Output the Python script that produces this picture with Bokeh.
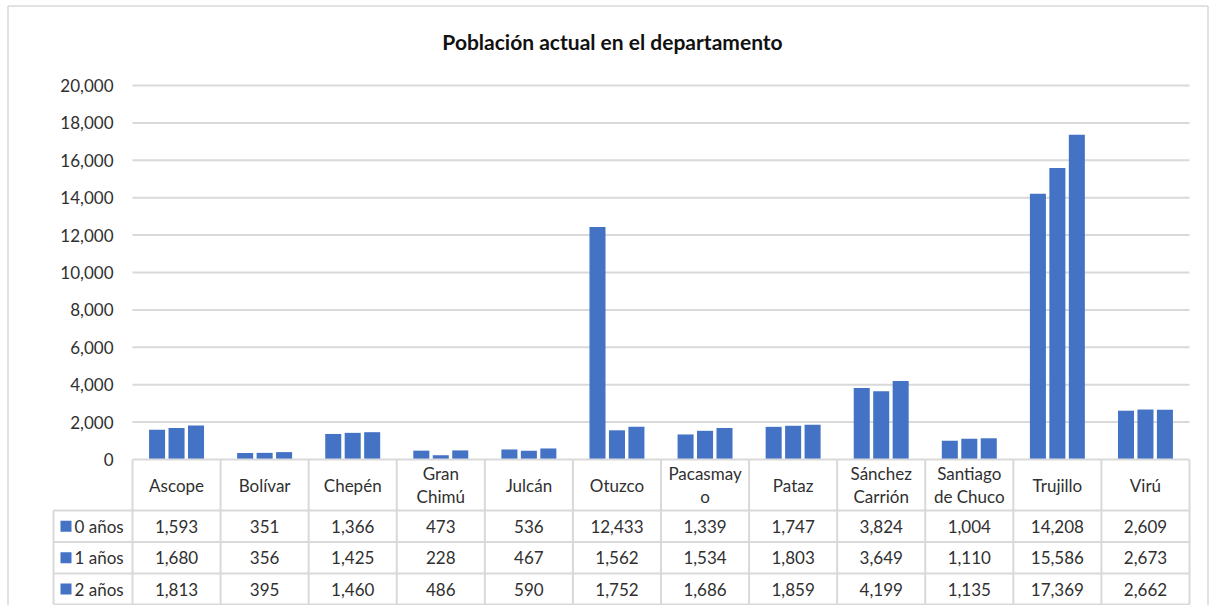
from bokeh.plotting import figure
from bokeh.models import Range1d
from bokeh.core.properties import value
from bokeh.embed import file_html
from bokeh.resources import INLINE

# ---------------- data ----------------
title_text = "Población actual en el departamento"
categories = ["Ascope", "Bolívar", "Chepén", "Gran Chimú", "Julcán", "Otuzco",
              "Pacasmayo", "Pataz", "Sánchez Carrión", "Santiago de Chuco",
              "Trujillo", "Virú"]
header_labels = ["Ascope", "Bolívar", "Chepén", "Gran\nChimú", "Julcán", "Otuzco",
                 "Pacasmay\no", "Pataz", "Sánchez\nCarrión", "Santiago\nde Chuco",
                 "Trujillo", "Virú"]
series_names = ["0 años", "1 años", "2 años"]
years0 = [1593, 351, 1366, 473, 536, 12433, 1339, 1747, 3824, 1004, 14208, 2609]
years1 = [1680, 356, 1425, 228, 467, 1562, 1534, 1803, 3649, 1110, 15586, 2673]
years2 = [1813, 395, 1460, 486, 590, 1752, 1686, 1859, 4199, 1135, 17369, 2662]
y_ticks = [0, 2000, 4000, 6000, 8000, 10000, 12000, 14000, 16000, 18000, 20000]
y_tick_labels = ["0", "2,000", "4,000", "6,000", "8,000", "10,000", "12,000",
                 "14,000", "16,000", "18,000", "20,000"]

series = [years0, years1, years2]

# ---------------- style / layout ----------------
BAR_COLOR = "#4472C4"
LINE_COLOR = "#D9D9D9"
TEXT_COLOR = "#303030"
TITLE_COLOR = "#111111"
FONT = "Lato"

W, H = 1209, 605
X0_PX, XN_PX = 132.0, 1189.0      # px of first / last category edge
Y0_PX, YTOP_PX = 459.0, 85.0      # px of value 0 / top tick
n = len(categories)
ux = (XN_PX - X0_PX) / n
uy = (Y0_PX - YTOP_PX) / y_ticks[-1]


def fx(px):
    return (px - X0_PX) / ux


def fy(py):
    return (Y0_PX - py) / uy


p = figure(width=W, height=H,
           x_range=Range1d(fx(0), fx(W)), y_range=Range1d(fy(H), fy(0)),
           x_axis_type=None, y_axis_type=None,
           output_backend="svg", toolbar_location=None, min_border=0)
p.grid.visible = False
p.outline_line_color = None
p.background_fill_color = "white"
p.border_fill_color = "white"

# chart border (left, top, right)
p.segment(x0=[fx(7.5), fx(7.5), fx(1207.5)], x1=[fx(7.5), fx(1207.5), fx(1207.5)],
          y0=[fy(H), fy(5.5), fy(5.5)], y1=[fy(5.5), fy(5.5), fy(H)],
          line_color=LINE_COLOR, line_width=1.5)

# title
p.text(x=[fx(612)], y=[fy(41)], text=[title_text],
       text_font=value(FONT), text_font_size="21px", text_font_style="bold",
       text_color=TITLE_COLOR, text_align="center", text_baseline="middle")

# gridlines
gv = y_ticks[1:]
p.segment(x0=[0] * len(gv), x1=[n] * len(gv), y0=gv, y1=gv,
          line_color=LINE_COLOR, line_width=2)

# y tick labels
p.text(x=[fx(113)] * len(y_ticks), y=y_ticks, text=y_tick_labels,
       text_font=value(FONT), text_font_size="17px", text_color=TEXT_COLOR,
       text_align="right", text_baseline="middle")

# bars
offsets = [-0.221, 0.0, 0.221]
for k, vals in enumerate(series):
    p.vbar(x=[i + 0.5 + offsets[k] for i in range(n)], top=vals, bottom=0,
           width=0.182, fill_color=BAR_COLOR, line_color=None)

# ---------------- data table ----------------
row_edges_px = [459, 510, 541.5, 573, 604]
LEG_LEFT_PX = 53
# horizontal lines
p.segment(x0=[0], x1=[n], y0=[0], y1=[0], line_color=LINE_COLOR, line_width=2)
hy = [fy(v) for v in row_edges_px[1:]]
p.segment(x0=[fx(LEG_LEFT_PX)] * len(hy), x1=[n] * len(hy), y0=hy, y1=hy,
          line_color=LINE_COLOR, line_width=2)
# vertical lines
vx = list(range(n + 1))
p.segment(x0=vx, x1=vx, y0=[0] * len(vx), y1=[fy(row_edges_px[-1])] * len(vx),
          line_color=LINE_COLOR, line_width=2)
p.segment(x0=[fx(LEG_LEFT_PX)], x1=[fx(LEG_LEFT_PX)], y0=[fy(row_edges_px[1])],
          y1=[fy(row_edges_px[-1])], line_color=LINE_COLOR, line_width=2)

# header
p.text(x=[i + 0.5 for i in range(n)],
       y=[fy((row_edges_px[0] + row_edges_px[1]) / 2)] * n, text=header_labels,
       text_font=value(FONT), text_font_size="17px", text_color=TEXT_COLOR,
       text_align="center", text_baseline="middle", text_line_height=1.1)

# rows
for k, vals in enumerate(series):
    yc = fy((row_edges_px[k + 1] + row_edges_px[k + 2]) / 2)
    p.text(x=[i + 0.5 for i in range(n)], y=[yc] * n,
           text=["{:,}".format(v) for v in vals],
           text_font=value(FONT), text_font_size="17px", text_color=TEXT_COLOR,
           text_align="center", text_baseline="middle")
    p.scatter(x=[fx(65.5)], y=[yc], marker="square", size=11,
              fill_color=BAR_COLOR, line_color=None)
    p.text(x=[fx(74)], y=[yc], text=[series_names[k]],
           text_font=value(FONT), text_font_size="17px", text_color=TEXT_COLOR,
           text_align="left", text_baseline="middle")

open("out.html", "w").write(file_html(p, INLINE))
